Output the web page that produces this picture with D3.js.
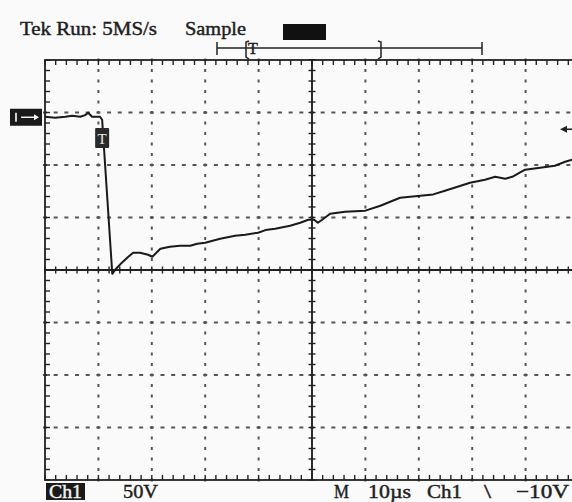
<!DOCTYPE html>
<html>
<head>
<meta charset="utf-8">
<script src="https://cdn.jsdelivr.net/npm/d3@7"></script>
<style>
  body { margin: 0; background: #fafafa; }
  svg { display: block; }
  text { font-family: "Liberation Serif", "Times New Roman", serif; fill: #1e1e1e; stroke: #1e1e1e; stroke-width: 0.45px; }
</style>
</head>
<body>
<svg id="scope" width="572" height="502"></svg>
<script>
// channel 1 trace, time in us from trigger, volts
var timeUs = [-10.7, -8.8, -6.9, -5.6, -4.1, -3.2, -2.6, -1.9, -0.4, 0,
  1.9, 2.6, 3.7, 4.9, 5.8, 7.1, 8.6, 9.4, 10.9, 12.7, 14.6, 16.5, 17.8, 19.3, 22.1,
  24.9, 26.8, 29.2, 30.6, 32.4, 35.2, 37.1, 38.6, 39.7, 40.4, 41.2, 42.7, 45.5, 49.3,
  52.1, 55.8, 59.6, 62.0, 64.2, 68.9, 71.7, 73.6, 75.5, 76.8, 79.2, 82.0, 84.8, 86.7, 88.0];
var voltsCh1 = [1.0, 0, 1.0, 1.9, 1.0, 2.5, 4.8, 1.0, 1.0, -1.9,
  -148.6, -143.8, -138.0, -132.4, -128.6, -128.6, -130.5, -132.4, -124.8, -122.8, -121.9, -121.9, -120.0, -119.0, -115.2,
  -112.4, -111.4, -109.5, -107.0, -105.7, -102.8, -100.0, -97.1, -97.1, -100.0, -97.1, -91.4, -89.5, -88.5,
  -83.8, -76.2, -74.3, -73.0, -69.5, -61.9, -59.0, -56.2, -58.1, -56.2, -49.5, -47.6, -45.7, -41.9, -40.0];

// scope settings
var voltsPerDiv = 50, usPerDiv = 10, positionDiv = 2.9, triggerUs = -10.7, trigLevel = -10;
var headerLabels = ["Tek Run: 5MS/s", "Sample"];
var footerLabels = ["50V", "M", "10\u00b5s", "Ch1", "\\", "\u221210V"];

function drawScope() {
var svg = d3.select("#scope");
var fLeft = 45, fRight = 579, fTop = 60, fBottom = 480;

var xDiv = d3.scaleLinear().domain([0, 10]).range([fLeft, fRight]);
var yDiv = d3.scaleLinear().domain([-4, 4]).range([fBottom, fTop]);
var x = d3.scaleLinear().domain([triggerUs, triggerUs + 10 * usPerDiv]).range([fLeft, fRight]);
var y = d3.scaleLinear()
    .domain([(-4 - positionDiv) * voltsPerDiv, (4 - positionDiv) * voltsPerDiv])
    .range([fBottom, fTop]);

var ink = "#222", dotInk = "#555";
var g = svg.append("g");

// dotted graticule
var minorX = d3.range(0, 50.01, 1).map(function(i) { return i / 5; });
var minorY = d3.range(-20, 20.01, 1).map(function(i) { return i / 5; });
[1, 2, 3, 4, 6, 7, 8, 9].forEach(function(d) {
  g.append("g").selectAll("rect").data(minorY).enter().append("rect")
    .attr("x", xDiv(d) - 1).attr("y", function(v) { return yDiv(v) - 1.5; })
    .attr("width", 2).attr("height", 3).attr("fill", dotInk);
});
[-3, -2, -1, 1, 2, 3].forEach(function(d) {
  g.append("g").selectAll("rect").data(minorX).enter().append("rect")
    .attr("x", function(v) { return xDiv(v) - 2; }).attr("y", yDiv(d) - 1)
    .attr("width", 4).attr("height", 2).attr("fill", dotInk);
});

// frame
g.append("rect").attr("x", fLeft).attr("y", fTop).attr("width", fRight - fLeft).attr("height", fBottom - fTop)
  .attr("fill", "none").attr("stroke", ink).attr("stroke-width", 1.8);

// edge ticks
g.append("g").selectAll("line").data(minorX).enter().append("line")
  .attr("x1", function(v) { return xDiv(v); }).attr("x2", function(v) { return xDiv(v); })
  .attr("y1", fTop).attr("y2", fTop + 5).attr("stroke", ink).attr("stroke-width", 1.4);
g.append("g").selectAll("line").data(minorX).enter().append("line")
  .attr("x1", function(v) { return xDiv(v); }).attr("x2", function(v) { return xDiv(v); })
  .attr("y1", fBottom).attr("y2", fBottom - 5).attr("stroke", ink).attr("stroke-width", 1.4);
g.append("g").selectAll("line").data(minorY).enter().append("line")
  .attr("x1", fLeft).attr("x2", fLeft + 5)
  .attr("y1", function(v) { return yDiv(v); }).attr("y2", function(v) { return yDiv(v); })
  .attr("stroke", ink).attr("stroke-width", 1.4);

// center axes with ticks
g.append("line").attr("x1", fLeft).attr("x2", fRight).attr("y1", yDiv(0)).attr("y2", yDiv(0))
  .attr("stroke", ink).attr("stroke-width", 1.9);
g.append("line").attr("x1", xDiv(5)).attr("x2", xDiv(5)).attr("y1", fTop).attr("y2", fBottom)
  .attr("stroke", ink).attr("stroke-width", 1.9);
g.append("g").selectAll("line").data(minorX).enter().append("line")
  .attr("x1", function(v) { return xDiv(v); }).attr("x2", function(v) { return xDiv(v); })
  .attr("y1", yDiv(0) - 3.5).attr("y2", yDiv(0) + 3.5).attr("stroke", ink).attr("stroke-width", 1.4);
g.append("g").selectAll("line").data(minorY).enter().append("line")
  .attr("x1", xDiv(5) - 3.5).attr("x2", xDiv(5) + 3.5)
  .attr("y1", function(v) { return yDiv(v); }).attr("y2", function(v) { return yDiv(v); })
  .attr("stroke", ink).attr("stroke-width", 1.4);

// trace
var line = d3.line().x(function(d) { return x(d[0]); }).y(function(d) { return y(d[1]); });
g.append("path").datum(d3.zip(timeUs, voltsCh1))
  .attr("d", line).attr("fill", "none").attr("stroke", "#1a1a1a")
  .attr("stroke-width", 2).attr("stroke-linejoin", "round");

// ground marker "1->"
var gy = y(0);
svg.append("rect").attr("x", 10).attr("y", gy - 9).attr("width", 32).attr("height", 17).attr("fill", "#1a1a1a");
svg.append("line").attr("x1", 16).attr("x2", 16).attr("y1", gy - 5).attr("y2", gy + 4)
  .attr("stroke", "#fff").attr("stroke-width", 1.6);
svg.append("line").attr("x1", 21).attr("x2", 36).attr("y1", gy - 0.5).attr("y2", gy - 0.5)
  .attr("stroke", "#fff").attr("stroke-width", 1.4);
svg.append("path").attr("d", "M34," + (gy - 3.5) + "L39," + (gy - 0.5) + "L34," + (gy + 2.5) + "Z").attr("fill", "#fff");

// trigger marker on trace
var tx = x(0);
svg.append("rect").attr("x", tx - 7).attr("y", 128).attr("width", 14).attr("height", 20)
  .attr("fill", "#2a2a2a").attr("rx", 1);
svg.append("text").attr("x", tx).attr("y", 144).attr("text-anchor", "middle")
  .attr("font-size", 15).style("fill", "#eee").style("stroke", "none").text("T");

// trigger level arrow at right
var ly = y(trigLevel) + 1;
svg.append("line").attr("x1", 566).attr("x2", 572).attr("y1", ly).attr("y2", ly).attr("stroke", ink).attr("stroke-width", 1.6);
svg.append("path").attr("d", "M560," + ly + "L567," + (ly - 3.5) + "L567," + (ly + 3.5) + "Z").attr("fill", ink);

// header
svg.append("text").attr("x", 20).attr("y", 35).attr("font-size", 19.5)
  .attr("textLength", 137).attr("lengthAdjust", "spacingAndGlyphs").text(headerLabels[0]);
svg.append("text").attr("x", 185).attr("y", 35).attr("font-size", 19.5)
  .attr("textLength", 61).attr("lengthAdjust", "spacingAndGlyphs").text(headerLabels[1]);
svg.append("rect").attr("x", 283).attr("y", 24).attr("width", 43).attr("height", 16).attr("fill", "#111");

// record bar
var rb = svg.append("g").attr("stroke", ink).attr("stroke-width", 1.5).attr("fill", "none");
rb.append("line").attr("x1", 217).attr("x2", 482).attr("y1", 48).attr("y2", 48);
rb.append("line").attr("x1", 217).attr("x2", 217).attr("y1", 42).attr("y2", 55);
rb.append("line").attr("x1", 482).attr("x2", 482).attr("y1", 42).attr("y2", 55);
rb.append("path").attr("d", "M249,41 L246,42 L246,57 L249,59");
rb.append("path").attr("d", "M378,41 L381,42 L381,57 L378,59");
svg.append("text").attr("x", 248).attr("y", 54).attr("font-size", 16).text("T");

// footer
svg.append("rect").attr("x", 46).attr("y", 483).attr("width", 39).attr("height", 17).attr("fill", "#1a1a1a");
svg.append("text").attr("x", 49).attr("y", 498).attr("font-size", 19.5).attr("textLength", 33)
  .attr("lengthAdjust", "spacingAndGlyphs").style("fill", "#f2f2f2").style("stroke", "#f2f2f2").text("Ch1");
var footX = [123, 334, 368, 427, 484, 516];
var footW = [35, 15, 43, 35, 7, 53];
svg.append("g").selectAll("text").data(footerLabels).enter().append("text")
  .attr("x", function(d, i) { return footX[i]; }).attr("y", 498)
  .attr("font-size", 19.5).attr("textLength", function(d, i) { return footW[i]; })
  .attr("lengthAdjust", "spacingAndGlyphs")
  .text(function(d) { return d; });
}
drawScope();
</script>
</body>
</html>
